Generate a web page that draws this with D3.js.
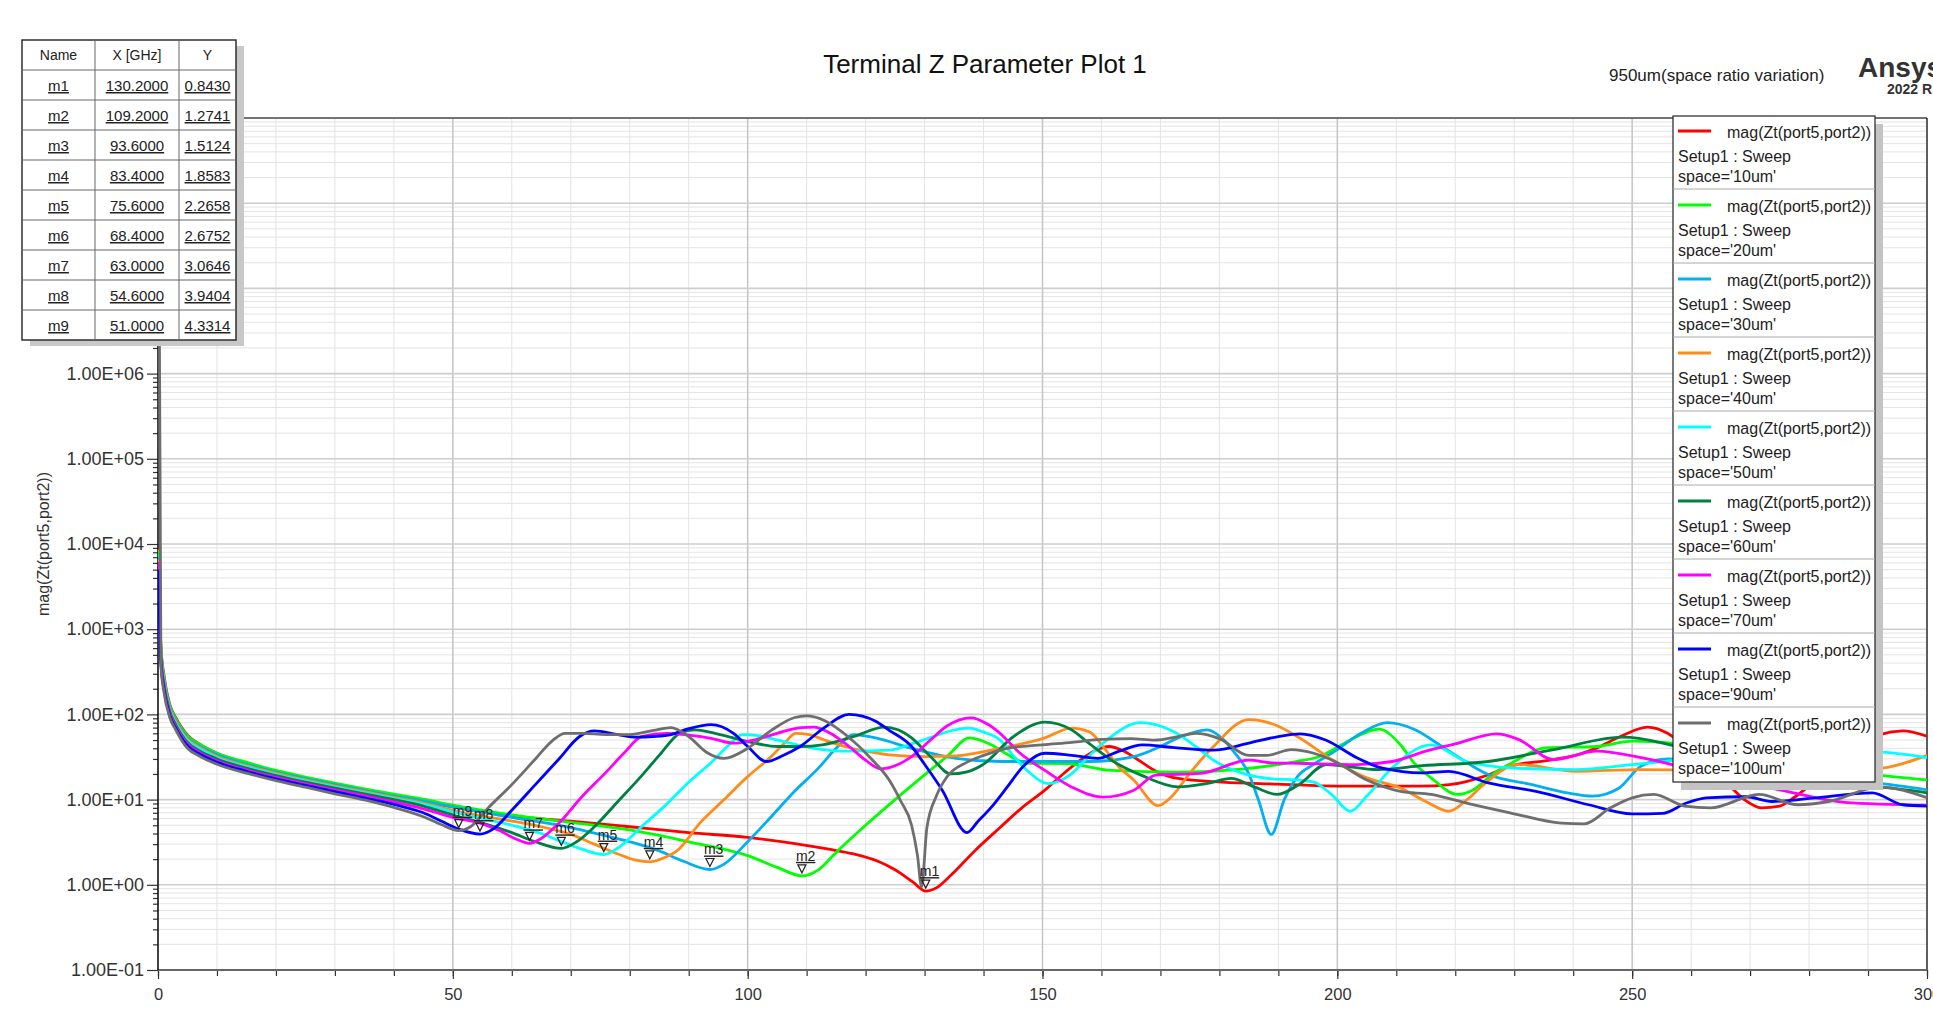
<!DOCTYPE html>
<html lang="en">
<head>
<meta charset="UTF-8">
<title>Terminal Z Parameter Plot 1</title>
<script src="https://cdn.jsdelivr.net/npm/d3@7"></script>
<style>
  body { margin: 0; background: #fff; }
  svg { display: block; font-family: "Liberation Sans", Arial, sans-serif; }
</style>
</head>
<body>
<svg width="1933" height="1018" id="mainsvg"></svg>
<script>
// frequency [GHz], mag(Zt(port5,port2))
const s10um = [[0, 9000], [0.5, 620], [1, 290], [2, 130], [3, 92], [5, 57], [7, 45], [10, 35], [15, 27], [20, 21.5], [25, 18], [30, 15.2], [35, 13], [40, 11.2], [45, 9.6], [50, 8.2], [60, 6.4], [70, 5.6], [80, 4.8], [90, 4.1], [100, 3.6], [108, 3.05], [114, 2.6], [118, 2.3], [122, 1.9], [125, 1.5], [128, 1.08], [130.2, 0.843], [132, 0.92], [134.5, 1.3], [138.5, 2.5], [142.8, 4.7], [146.5, 8], [150.4, 12.9], [153.5, 20], [156.4, 29], [159, 38], [161.3, 42], [163.5, 38], [166, 30], [169, 22], [173, 17.7], [180.5, 16], [190, 15.2], [200, 14.4], [214, 14.4], [219, 15], [222, 16.4], [226, 20], [229.3, 24.7], [236.7, 29.5], [241, 34], [244, 40.5], [248, 55], [252.6, 71], [256, 60], [260, 35], [263, 22], [266.3, 15], [269, 10], [271.9, 8], [275, 8.4], [277.4, 10.5], [283, 22], [288.5, 44], [292, 58], [295.9, 64], [300, 55.6]];
const s20um = [[0, 8500], [0.5, 600], [1, 280], [2, 127], [3, 90], [5, 56], [7, 45], [10, 35], [15, 27.5], [20, 22], [25, 18.4], [30, 15.6], [35, 13.4], [40, 11.6], [45, 10.1], [50, 8.6], [60, 6.6], [70, 5.4], [80, 4.4], [90, 3.2], [100, 2.2], [105, 1.6], [109.2, 1.2741], [112, 1.5], [115, 2.4], [120, 5], [125, 10], [130, 19.5], [134, 33], [137.6, 53], [141.3, 44], [144, 34], [147.4, 26.7], [154, 26.5], [161.7, 22], [173, 21], [184.3, 23], [193, 28], [197, 32], [201, 45], [205, 62], [207, 67], [210.7, 44], [213, 27], [215.9, 18], [220.4, 11.5], [223, 13], [226.3, 19.7], [230, 28], [235.2, 40.5], [244, 42], [250, 48.5], [258, 45], [268, 35], [275, 28], [282, 24], [290, 20], [300, 17]];
const s30um = [[0, 7000], [0.5, 560], [1, 265], [2, 122], [3, 86], [5, 53], [7, 42.5], [10, 33.5], [15, 26], [20, 21], [25, 17.6], [30, 15], [35, 12.8], [40, 11], [45, 9.6], [50, 8.2], [60, 6.2], [70, 4.7], [75, 3.9], [80, 3.2], [85, 2.5], [89, 1.9], [93.6, 1.5124], [96, 1.75], [100, 3.2], [104, 6.3], [108, 12.6], [112, 23.4], [115, 40], [118, 58], [121.7, 53], [127.8, 40], [135.3, 30.5], [142.8, 28], [150.4, 28], [157.9, 28], [165.5, 32], [170, 42], [173, 53], [177.9, 66], [180.5, 52], [182.5, 36], [185, 20], [186.6, 10], [188.8, 3.9], [191, 10], [193.2, 18.5], [196, 26], [199.6, 37], [204, 60], [208.5, 80], [213, 67], [218.1, 40.5], [225.6, 19.7], [233, 15], [239, 12], [243.3, 11], [247.8, 13.7], [251.5, 24.7], [256, 30], [265, 28], [275, 22], [285, 17], [292, 15.5], [300, 13]];
const s40um = [[0, 6500], [0.5, 520], [1, 250], [2, 117], [3, 82], [5, 51], [7, 41], [10, 32], [15, 25], [20, 20.3], [25, 17], [30, 14.4], [35, 12.4], [40, 10.6], [45, 9.1], [50, 7.5], [55, 6.4], [60, 5.6], [65, 4.8], [70, 3.9], [74, 3], [78, 2.3], [81, 1.95], [83.4, 1.8583], [86, 2.1], [88, 2.5], [92, 5.4], [96, 10], [100, 18.6], [104, 32], [106.5, 48], [108.1, 60], [110.4, 58], [113, 50], [116.4, 42], [120, 37], [124, 33.5], [130, 32], [135.3, 32.6], [142.8, 40], [150.4, 53], [154.9, 69], [158, 62], [160.5, 40], [163, 24], [165.5, 16.9], [169.6, 8.5], [172, 11], [174.5, 18.5], [179, 42], [185, 87], [189.5, 75], [193.2, 55], [199.6, 28], [205, 18], [210.7, 13.7], [215, 9.5], [218.9, 7.3], [222, 10], [224.8, 15], [230.7, 25.8], [240.4, 21.5], [251.5, 22.5], [265, 22], [280, 21.5], [291.5, 23], [300, 33]];
const s50um = [[0, 6000], [0.5, 490], [1, 240], [2, 112], [3, 79], [5, 49], [7, 39.5], [10, 31], [15, 24.2], [20, 19.7], [25, 16.5], [30, 14], [35, 12], [40, 10.3], [45, 8.8], [50, 7.2], [55, 6], [60, 5], [65, 4], [68, 3.3], [72, 2.6], [75.6, 2.2658], [78, 2.7], [82, 4.8], [86, 8.5], [90, 16], [94, 28], [97, 45], [99.1, 58], [102, 56], [105.1, 50], [111.2, 40], [117.2, 37], [124, 38], [127.8, 45], [131.5, 55], [134, 63], [137.6, 69], [140, 62], [142.8, 50], [145, 33], [147.4, 22], [151.1, 15.4], [154.9, 20], [158, 33], [160.9, 50], [166.6, 80], [172.2, 63], [176, 42], [179, 29], [184.3, 20], [189, 17.5], [193.2, 17], [196, 16], [199, 11.5], [202.2, 7.3], [205, 11], [209.3, 23.6], [215.9, 44], [221.9, 28], [229.3, 23.6], [240.4, 22.5], [250, 25.8], [260, 30], [275, 35], [291.5, 36], [300, 31]];
const s60um = [[0, 5500], [0.5, 460], [1, 228], [2, 108], [3, 76], [5, 47], [7, 37.5], [10, 30], [15, 23.4], [20, 19.1], [25, 16], [30, 13.6], [35, 11.7], [40, 10], [45, 8.4], [50, 6.6], [55, 5.3], [60, 4.1], [64, 3.2], [68.4, 2.6752], [71, 3.2], [74, 4.8], [78, 9.5], [82, 19], [85, 33], [88.5, 60], [91, 66], [95.3, 58], [100, 48], [105.1, 42], [109, 42], [112.7, 44], [118, 55], [123.2, 71], [125.5, 66], [127.8, 53], [131, 32], [134.5, 20], [137, 21], [139.8, 25.5], [145.1, 55], [150.4, 81], [154.9, 66], [158, 45], [161.7, 29], [167, 19], [173, 14.1], [178, 15.5], [182, 17.7], [186, 14], [189.8, 11.5], [193.5, 15], [198.1, 25.8], [207, 22.5], [214.4, 25], [225.6, 28], [236.7, 38.7], [248.5, 54], [255.2, 46], [265, 28], [275, 15], [285, 14.5], [292, 14], [300, 12]];
const s70um = [[0, 6200], [0.5, 430], [1, 215], [2, 102], [3, 72], [5, 45], [7, 36], [10, 28.5], [15, 22.3], [20, 18.2], [25, 15.3], [30, 13], [35, 11.1], [40, 9.4], [45, 7.8], [50, 6.2], [55, 5.2], [58, 4.3], [60.5, 3.5], [63, 3.0646], [65, 3.5], [68, 5.3], [72, 11], [76, 21], [79, 35], [82, 55], [86.3, 60], [90, 57], [94, 52], [97.6, 46], [101, 50], [105, 60], [109, 70], [111.2, 71], [114, 60], [117.2, 42], [120, 29], [122.5, 23], [125, 25], [127.8, 32], [131, 50], [133.8, 73], [137.9, 91], [140.5, 78], [142.8, 60], [146, 36], [150.4, 22], [155, 14], [160.2, 10.7], [165.5, 12.9], [169.2, 19.4], [176.8, 20.3], [185, 29], [189, 27], [193.2, 26.7], [203.3, 25.8], [209.3, 28], [215, 37], [220, 45], [227, 59], [230.7, 51], [236.7, 29.5], [244, 37], [251.5, 31], [258.9, 23.6], [266, 17], [275, 13], [286, 9.3], [300, 8.6]];
const s90um = [[0, 5000], [0.5, 400], [1, 200], [2, 97], [3, 69], [5, 43], [7, 34.5], [10, 27.5], [15, 21.5], [20, 17.5], [25, 14.7], [30, 12.4], [35, 10.5], [40, 8.8], [45, 7], [48, 5.6], [51, 4.5], [54.6, 3.9404], [57, 4.6], [60, 7.5], [64, 15], [68, 30], [71.5, 55], [74, 64], [78, 58], [81, 54], [84, 55], [87, 58], [90, 68], [93.8, 76], [97.6, 60], [100, 42], [103.2, 28], [106, 33], [108.9, 42], [113, 70], [117.2, 100], [121.7, 83], [124, 65], [127.8, 42], [130, 26], [133, 12.9], [137.2, 4.1], [139, 5.5], [141.3, 8.1], [144, 14], [146.6, 24], [150.4, 35], [155, 33], [159.4, 30.5], [163, 37], [166.9, 44], [172, 41], [179, 38], [185, 46], [190, 55], [193.7, 59], [198, 50], [203.3, 31], [207, 24], [210.7, 21.5], [214.4, 20.6], [218.9, 21.5], [225.6, 15.7], [233.7, 12.5], [242.6, 8.7], [250, 6.8], [255.2, 6.9], [259, 9], [262.6, 10.5], [269.3, 10.8], [273.7, 9.5], [281, 10.5], [290.7, 12], [295.9, 8.7], [300, 8.4]];
const s100um = [[0, 1e10], [0.5, 370], [1, 185], [2, 92], [3, 66], [5, 40], [7, 32.5], [10, 26], [15, 20.5], [20, 16.7], [25, 14], [30, 11.7], [35, 9.9], [40, 8.1], [45, 6.3], [48, 5.1], [51, 4.3314], [53, 4.8], [56, 8], [60, 15], [64, 30], [67, 50], [69, 60], [72, 60], [76, 58], [80, 58], [84, 65], [87, 70], [90, 55], [93, 36], [96, 30.5], [100, 40], [104, 65], [108, 92], [110, 96], [113, 85], [117, 55], [121, 30], [124, 17], [126, 9.5], [127.8, 5], [128.8, 2.2], [129.5, 0.95], [130.4, 4.7], [132, 11], [133.8, 18.5], [137, 27], [140, 33], [144, 40], [150, 44], [155, 47], [160, 51], [165, 52], [169, 50], [173, 55], [176, 60], [180, 52], [185, 33], [188, 33], [192.2, 38.7], [196, 35], [199.6, 28], [205, 17], [210.7, 12.5], [215.9, 11.5], [221.9, 9.1], [229.3, 7], [238, 5.3], [241.9, 5.2], [246.3, 8], [250, 10.5], [253.7, 11.5], [258.9, 8.4], [263.3, 8], [271.5, 11.5], [278.1, 8.7], [283.3, 9.5], [292, 14], [300, 10.5]];

const seriesData = [s10um, s20um, s30um, s40um, s50um, s60um, s70um, s90um, s100um];
const seriesSpace = ['10um', '20um', '30um', '40um', '50um', '60um', '70um', '90um', '100um'];
const seriesColor = ['#ff0000', '#00ff00', '#00b0f0', '#ff8c1a', '#00ffff', '#008040', '#ff00ff', '#0000ff', '#6e6e6e'];

// marker table
const markerName = ['m1', 'm2', 'm3', 'm4', 'm5', 'm6', 'm7', 'm8', 'm9'];
const markerX = [130.2, 109.2, 93.6, 83.4, 75.6, 68.4, 63.0, 54.6, 51.0];
const markerY = [0.8430, 1.2741, 1.5124, 1.8583, 2.2658, 2.6752, 3.0646, 3.9404, 4.3314];

const xTicks = [0, 50, 100, 150, 200, 250, 300];
const xMinorTicks = d3.range(0, 301, 10);
const yTicks = [1e-1, 1e0, 1e1, 1e2, 1e3, 1e4, 1e5, 1e6, 1e7, 1e8, 1e9];

const svg = d3.select('#mainsvg');
const margin = { top: 118, right: 6, bottom: 48, left: 158 };
const W = +svg.attr('width'), H = +svg.attr('height');
const pL = margin.left, pR = W - margin.right, pT = margin.top, pB = H - margin.bottom;

const x = d3.scaleLinear().domain([0, 300]).range([pL, pR]);
const y = d3.scaleLog().domain([0.1, 1e9]).range([pB, pT]);

// grid
const yMinor = [];
yTicks.slice(0, -1).forEach(d => { for (let k = 2; k <= 9; k++) yMinor.push(d * k); });

const grid = svg.append('g');
grid.append('g').selectAll('line').data(xMinorTicks.filter(d => d % 50 !== 0)).join('line')
  .attr('x1', d => x(d)).attr('x2', d => x(d)).attr('y1', pT).attr('y2', pB)
  .attr('stroke', '#e4e4e4').attr('stroke-width', 1);
grid.append('g').selectAll('line').data(yMinor).join('line')
  .attr('x1', pL).attr('x2', pR).attr('y1', d => y(d)).attr('y2', d => y(d))
  .attr('stroke', '#e4e4e4').attr('stroke-width', 1);
grid.append('g').selectAll('line').data(xTicks.slice(1)).join('line')
  .attr('x1', d => x(d)).attr('x2', d => x(d)).attr('y1', pT).attr('y2', pB)
  .attr('stroke', '#c4c4c4').attr('stroke-width', 1.5);
grid.append('g').selectAll('line').data(yTicks.slice(1)).join('line')
  .attr('x1', pL).attr('x2', pR).attr('y1', d => y(d)).attr('y2', d => y(d))
  .attr('stroke', '#cdcdcd').attr('stroke-width', 1.6);

// frame
svg.append('line').attr('x1', pL).attr('x2', pR).attr('y1', pT).attr('y2', pT)
  .attr('stroke', '#111').attr('stroke-width', 1.2);
svg.append('line').attr('x1', pR).attr('x2', pR).attr('y1', pT).attr('y2', pB)
  .attr('stroke', '#111').attr('stroke-width', 1.2);

// axes
// labels above 1E+06 sit under the marker table, so they are left out
const expFmt = v => {
  const e = Math.round(Math.log10(v));
  if (e > 6) return '';
  return '1.00E' + (e < 0 ? '-' : '+') + String(Math.abs(e)).padStart(2, '0');
};

const xAxisMinor = svg.append('g').attr('transform', `translate(0,${pB})`)
  .call(d3.axisBottom(x).tickValues(xMinorTicks).tickSize(6).tickFormat(''));
const xAxis = svg.append('g').attr('transform', `translate(0,${pB})`)
  .call(d3.axisBottom(x).tickValues(xTicks).tickSize(9).tickPadding(9).tickFormat(d3.format('d')));
const yAxisMinor = svg.append('g').attr('transform', `translate(${pL},0)`)
  .call(d3.axisLeft(y).tickValues(yMinor).tickSize(5).tickFormat(''));
const yAxis = svg.append('g').attr('transform', `translate(${pL},0)`)
  .call(d3.axisLeft(y).tickValues(yTicks).tickSize(11).tickPadding(3).tickFormat(expFmt));

[xAxisMinor, xAxis, yAxisMinor, yAxis].forEach(a => {
  a.select('.domain').remove();
  a.selectAll('.tick line').attr('stroke', '#333').attr('stroke-width', 1.2);
});
xAxis.selectAll('text').attr('font-size', 16.5).attr('fill', '#333')
  .attr('font-family', '"Liberation Sans", Arial, sans-serif');
yAxis.selectAll('text').attr('font-size', 18).attr('fill', '#333')
  .attr('font-family', '"Liberation Sans", Arial, sans-serif');
yAxis.selectAll('text').filter(function () { return this.textContent === ''; }).remove();

svg.append('line').attr('x1', pL).attr('x2', pR).attr('y1', pB).attr('y2', pB)
  .attr('stroke', '#666').attr('stroke-width', 2.2);
svg.append('line').attr('x1', pL).attr('x2', pL).attr('y1', pT).attr('y2', pB)
  .attr('stroke', '#111').attr('stroke-width', 1.6);

svg.append('text').attr('transform', `translate(49,${(pT + pB) / 2})rotate(-90)`)
  .attr('text-anchor', 'middle').attr('font-size', 16).attr('fill', '#333')
  .text('mag(Zt(port5,port2))');

// curves
svg.append('clipPath').attr('id', 'plotclip').append('rect')
  .attr('x', pL).attr('y', pT).attr('width', pR - pL).attr('height', pB - pT);

const line = d3.line().x(d => x(d[0])).y(d => y(d[1])).curve(d3.curveMonotoneX);
svg.append('g').attr('clip-path', 'url(#plotclip)')
  .selectAll('path').data(seriesData).join('path')
  .attr('d', line)
  .attr('fill', 'none')
  .attr('stroke', (d, i) => seriesColor[i])
  .attr('stroke-width', 2.8)
  .attr('stroke-linejoin', 'round');

// markers on the curves
const mk = svg.append('g').selectAll('g').data(markerName).join('g')
  .attr('transform', (d, i) => `translate(${x(markerX[i])},${y(markerY[i])})`);
mk.append('path').attr('d', 'M-4,-11L4,-11L0,-3Z')
  .attr('fill', 'none').attr('stroke', '#222').attr('stroke-width', 1.2);
mk.append('text').attr('x', -6).attr('y', -15).attr('font-size', 14).attr('fill', '#222')
  .attr('text-decoration', 'underline').text(d => d);

// titles
svg.append('text').attr('x', 985).attr('y', 73).attr('text-anchor', 'middle')
  .attr('font-size', 26).attr('fill', '#111').text('Terminal Z Parameter Plot 1');
svg.append('text').attr('x', 1609).attr('y', 81).attr('font-size', 17).attr('fill', '#222')
  .text('950um(space ratio variation)');
svg.append('text').attr('x', 1858).attr('y', 77).attr('font-size', 28).attr('font-weight', 'bold')
  .attr('fill', '#333').text('Ansys');
svg.append('text').attr('x', 1887).attr('y', 94).attr('font-size', 14).attr('font-weight', 'bold')
  .attr('fill', '#333').text('2022 R1');

// legend
const lg = { x: 1673, y: 116, w: 202, row: 74 };
const lgH = lg.row * seriesData.length;
svg.append('rect').attr('x', lg.x + 8).attr('y', lg.y + 8).attr('width', lg.w).attr('height', lgH)
  .attr('fill', '#c4c4c4');
svg.append('rect').attr('x', lg.x).attr('y', lg.y).attr('width', lg.w).attr('height', lgH)
  .attr('fill', '#fff').attr('stroke', '#222').attr('stroke-width', 1.2);
const le = svg.append('g').selectAll('g').data(seriesSpace).join('g')
  .attr('transform', (d, i) => `translate(${lg.x},${lg.y + i * lg.row})`)
  .attr('font-size', 16).attr('fill', '#222');
le.append('line').attr('x1', 5).attr('x2', 38).attr('y1', 15).attr('y2', 15)
  .attr('stroke', (d, i) => seriesColor[i]).attr('stroke-width', 2.8);
le.append('text').attr('x', 54).attr('y', 22).text('mag(Zt(port5,port2))');
le.append('text').attr('x', 5).attr('y', 46).text('Setup1 : Sweep');
le.append('text').attr('x', 5).attr('y', 66).text(d => `space='${d}'`);
le.filter((d, i) => i < seriesSpace.length - 1).append('line')
  .attr('x1', 0).attr('x2', lg.w).attr('y1', lg.row - 1).attr('y2', lg.row - 1)
  .attr('stroke', '#aaa').attr('stroke-width', 1);

// marker table
const tb = { x: 22, y: 40, row: 30, cols: [22, 95, 179, 236] };
const tbH = tb.row * (markerName.length + 1);
const tbW = tb.cols[3] - tb.cols[0];
svg.append('rect').attr('x', tb.x + 8).attr('y', tb.y + 6).attr('width', tbW).attr('height', tbH)
  .attr('fill', '#c8c8c8');
svg.append('rect').attr('x', tb.x).attr('y', tb.y).attr('width', tbW).attr('height', tbH)
  .attr('fill', '#fff').attr('stroke', '#222').attr('stroke-width', 1.4);
svg.append('g').selectAll('line').data(d3.range(1, markerName.length + 1)).join('line')
  .attr('x1', tb.x).attr('x2', tb.x + tbW)
  .attr('y1', d => tb.y + d * tb.row).attr('y2', d => tb.y + d * tb.row)
  .attr('stroke', '#666').attr('stroke-width', 1);
svg.append('g').selectAll('line').data(tb.cols.slice(1, 3)).join('line')
  .attr('x1', d => d).attr('x2', d => d).attr('y1', tb.y).attr('y2', tb.y + tbH)
  .attr('stroke', '#666').attr('stroke-width', 1);
const colMid = [0, 1, 2].map(i => (tb.cols[i] + tb.cols[i + 1]) / 2);
const tt = svg.append('g').attr('fill', '#222').attr('text-anchor', 'middle');
['Name', 'X [GHz]', 'Y'].forEach((h, j) => {
  tt.append('text').attr('x', colMid[j]).attr('y', tb.y + 20).attr('font-size', 14).text(h);
});
markerName.forEach((m, i) => {
  const ry = tb.y + (i + 1) * tb.row + 21;
  [m, markerX[i].toFixed(4), markerY[i].toFixed(4)].forEach((v, j) => {
    tt.append('text').attr('x', colMid[j]).attr('y', ry).attr('font-size', 15)
      .attr('text-decoration', 'underline').text(v);
  });
});
</script>
</body>
</html>
